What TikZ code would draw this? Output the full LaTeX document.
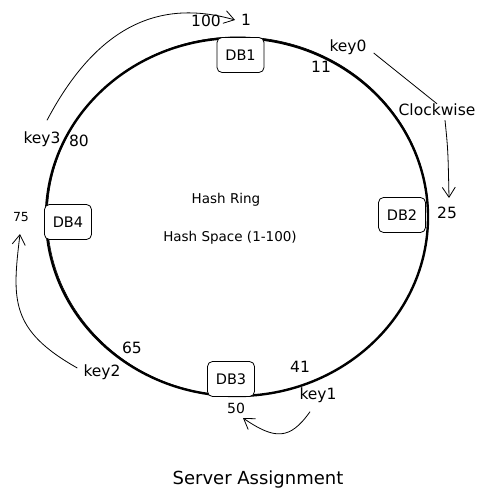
\documentclass[tikz,border=0pt]{standalone}
\usepackage{fontspec}
\setmainfont{DejaVu Sans}
\usetikzlibrary{arrows.meta,shapes.geometric}
\begin{document}
\begin{tikzpicture}[x=1pt,y=-1pt,
  lbl/.style={inner sep=0pt,font=\fontsize{15.5}{18}\selectfont},
  small/.style={inner sep=0pt,font=\fontsize{13.5}{16}\selectfont},
  db/.style={draw,rounded corners=5pt,line width=0.8pt,minimum width=47pt,minimum height=35pt,inner sep=0pt,font=\fontsize{14.5}{17}\selectfont},
  ring/.style={line width=2.4pt},
  sk/.style={line width=0.8pt,-{Straight Barb[length=10pt,width=13pt]}}]
\useasboundingbox (0,0) rectangle (489,502);
% ring
\node[draw,ring,ellipse,minimum width=382pt,minimum height=358pt,inner sep=0pt] (ring) at (237,217) {};
\draw[line width=0.6pt] (237.8,216.3) ellipse [x radius=190.5, y radius=179.4];
% servers
\node[db,fill=white] (db1) at (240.5,55) {DB1};
\node[db,fill=white] (db2) at (402,215) {DB2};
\node[db,fill=white] (db4) at (68,222) {DB4};
\node[db,fill=white] (db3) at (231,379) {DB3};
% positions
\node[lbl] (p100) at (206,21) {100};
\node[lbl] (p1) at (246,20) {1};
\node[lbl] (p11) at (321,67) {11};
\node[lbl] (p25) at (447,213) {25};
\node[lbl] (p80) at (79,141) {80};
\node[inner sep=0pt,font=\fontsize{12.5}{15}\selectfont] (p75) at (21,217) {75};
\node[inner sep=0pt,font=\fontsize{14}{16}\selectfont] (p50) at (236,408) {50};
\node[lbl] (p65) at (132,348) {65};
\node[lbl] (p41) at (300,367) {41};
% keys
\node[lbl] (k0) at (348,47) {key0};
\node[lbl] (k3) at (42,139) {key3};
\node[lbl] (k2) at (102,372) {key2};
\node[lbl] (k1) at (318,395) {key1};
% center
\node[small] (hr) at (226,200) {Hash Ring};
\node[small] (hs) at (230,238) {Hash Space (1-100)};
\node[font=\fontsize{18}{21}\selectfont,inner sep=0pt] (sa) at (258,480) {Server Assignment};
\node[lbl] (cw) at (437,110) {Clockwise};
% arrows
\coordinate (t1) at (235,20);
\coordinate (t25) at (449,198);
\coordinate (t50) at (243,418);
\coordinate (t75) at (20,234);
\draw[sk] (k3.north) ++(5,-11) .. controls (100,20) and (165,0) .. (t1);
\draw[line width=0.8pt] (k0.east) ++(7,6) -- (cw.north);
\draw[sk] (cw.south) ++(8,4) .. controls (448,150) .. (t25);
\draw[sk] (k1.south) ++(-8,9) .. controls (290,440) and (275,440) .. (t50);
\draw[sk] (k2.west) ++(-6,-4) .. controls (10,330) and (12,300) .. (t75);
\end{tikzpicture}
\end{document}
